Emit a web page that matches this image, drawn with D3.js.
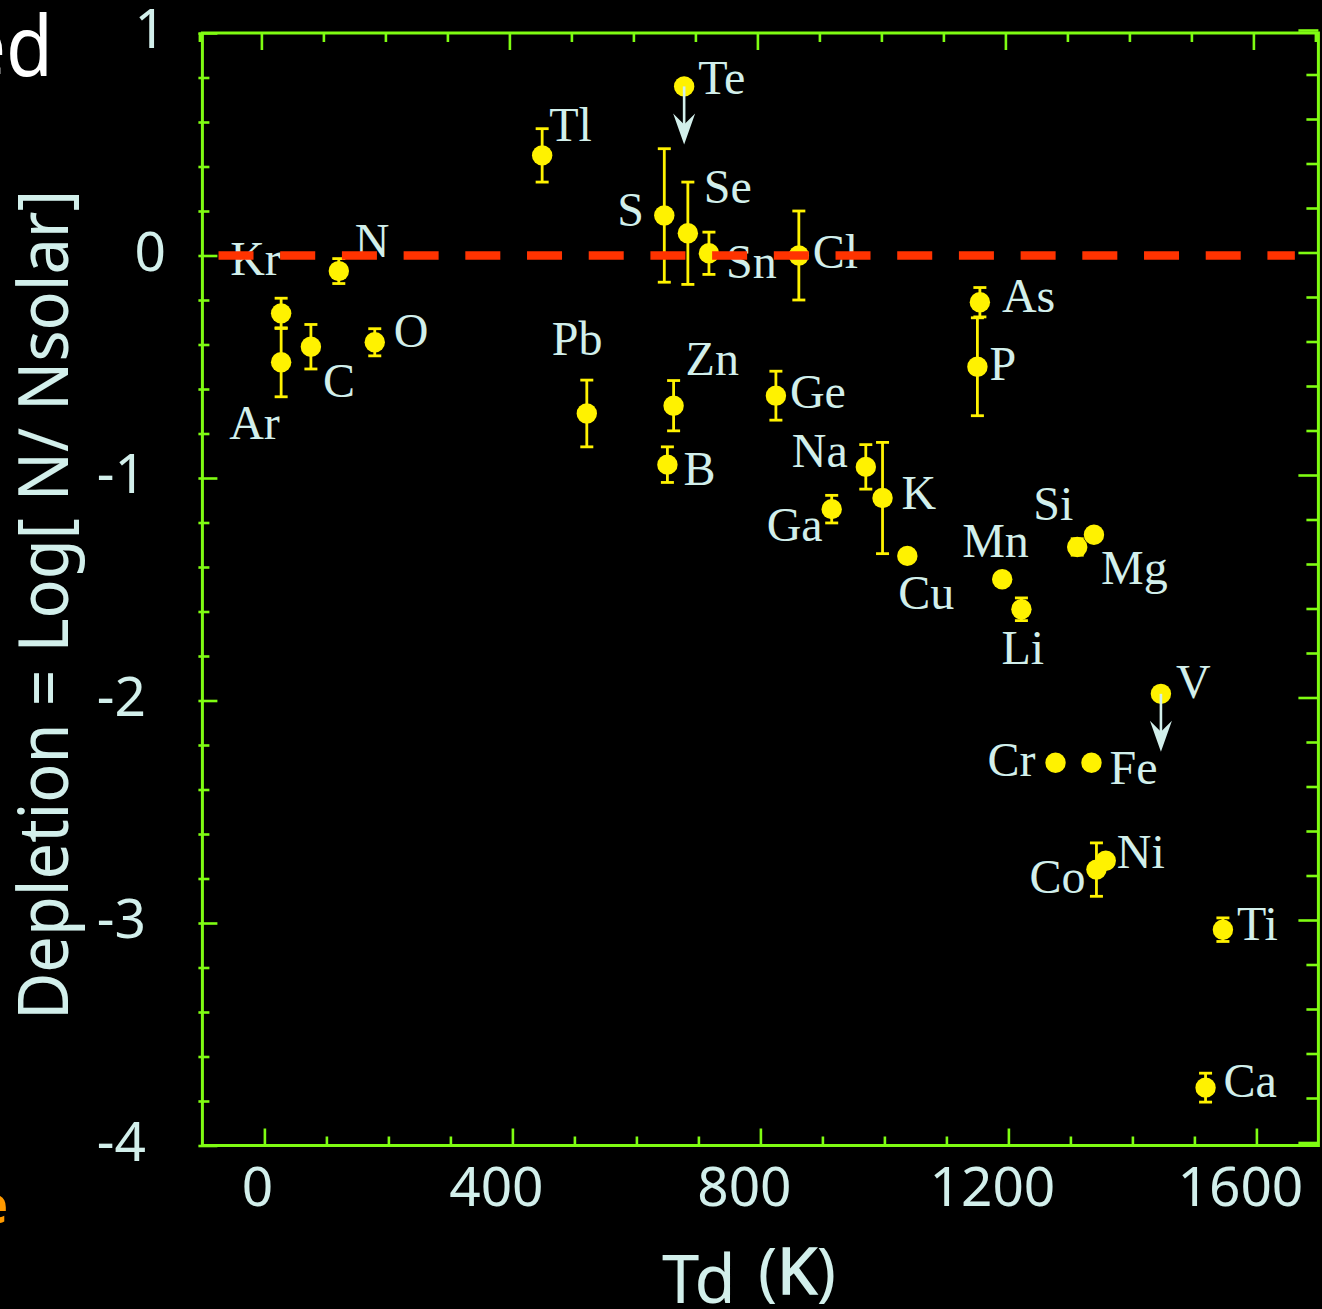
<!DOCTYPE html>
<html>
<head>
<meta charset="utf-8">
<script src="https://cdn.jsdelivr.net/npm/d3@7"></script>
<style>
  html, body { margin: 0; padding: 0; background: #000; }
  svg { display: block; }
</style>
</head>
<body>
<svg id="chart" width="1322" height="1309"></svg>
<script>
// Elements, their condensation temperature Td (K) and gas-phase depletion log[N/Nsolar]
const elements = ["Kr","Ar","C","N","O","Tl","Te","S","Se","Sn","Cl","Pb","Zn","B","Ge","Na","K","Ga","Cu","Mn","Li","Si","Mg","As","P","V","Cr","Fe","Co","Ni","Ti","Ca"];
const condTemp = [27, 27, 75, 120, 178, 448, 677, 645, 683, 717, 862, 520, 660, 650, 825, 970, 997, 915, 1037, 1190, 1221, 1311, 1338, 1154, 1150, 1446, 1276, 1334, 1342, 1357, 1546, 1518];
const depletion = [-0.26, -0.48, -0.41, -0.07, -0.39, 0.45, 0.76, 0.18, 0.10, 0.01, 0.00, -0.71, -0.675, -0.94, -0.63, -0.95, -1.09, -1.14, -1.35, -1.455, -1.59, -1.31, -1.255, -0.21, -0.50, -1.97, -2.28, -2.28, -2.76, -2.72, -3.03, -3.74];
const depletionErr = [0.068, 0.155, 0.10, 0.056, 0.061, 0.12, 0, 0.30, 0.23, 0.095, 0.20, 0.15, 0.113, 0.08, 0.11, 0.10, 0.25, 0.062, 0, 0, 0.051, 0.037, 0, 0.066, 0.22, 0, 0, 0, 0.12, 0, 0.053, 0.065];
const upperLimit = ["Te", "V"];

// Axis ticks
const xTickLabels = ["0", "400", "800", "1200", "1600"];
const yTickLabels = ["1", "0", "-1", "-2", "-3", "-4"];
const solarLevel = 0;
const solarLineSpan = [-74, 1662];

// Label placement next to each marker (pixel offsets: dx, dy to baseline)
const labelOffsets = [[-51,-38],[-52,77],[12,50],[16,-14],[19,5],[7,-14],[14,8],[-47,11],[16,-30],[17,25],[14,12],
  [-35,-58],[12,-31],[16,20],[14,12],[-74,0],[19,11],[-65,32],[-9,53],[-40,-22],[-20,55],[-44,-27],[7,49],
  [22,10],[12,13],[15,4],[-68,13],[18,21],[-67,23],[11,7],[14,10],[18,9]];

const GREEN = "#7ffc12", YELLOW = "#fff200", TXT = "#d2efeb", RED = "#ff3300";
const AXIS_FONT = "'Noto Sans', 'Open Sans', 'DejaVu Sans', sans-serif";

const svg = d3.select("#chart");
svg.append("rect").attr("width", 1322).attr("height", 1309).attr("fill", "#000");

const x = d3.scaleLinear().domain([-100, 1700]).range([202.4, 1318.4]);
const y = d3.scaleLinear().domain([-4, 1]).range([1145.5, 33]);

const points = elements.map((el, i) => ({
  el, t: condTemp[i], v: depletion[i], e: depletionErr[i],
  lim: upperLimit.includes(el), off: labelOffsets[i]
}));

// Frame
svg.append("rect")
  .attr("x", x(-100)).attr("y", y(1))
  .attr("width", x(1700) - x(-100)).attr("height", y(-4) - y(1))
  .attr("fill", "none").attr("stroke", GREEN).attr("stroke-width", 3);

// Tick marks on all four sides, pointing inward
const xTicks = d3.range(0, 1601, 100);
const xTicksTop = d3.range(-100, 1701, 100);
const yTicks = d3.range(-20, 6).map(d => +(d * 0.2).toFixed(1));
const isMajorX = d => d % 400 === 0;
const isMajorY = d => Math.abs(d - Math.round(d)) < 1e-6;

function styleTicks(g) {
  g.select(".domain").remove();
  g.selectAll("text").remove();
  g.selectAll("line").attr("stroke", GREEN).attr("stroke-width", 2.6);
}

svg.append("g").attr("transform", `translate(0,${y(-4)})`)
  .call(d3.axisBottom(x).tickValues(xTicks).tickSize(-9).tickFormat(""))
  .call(styleTicks)
  .selectAll(".tick line").attr("y2", d => isMajorX(d) ? -17 : -9);

svg.append("g").attr("transform", `translate(-3,${y(1)})`)
  .call(d3.axisTop(x).tickValues(xTicksTop).tickSize(-9).tickFormat(""))
  .call(styleTicks)
  .selectAll(".tick line").attr("y2", d => isMajorX(d) ? 17 : 9);

svg.append("g").attr("transform", `translate(${x(-100)},0)`)
  .call(d3.axisLeft(y).tickValues(yTicks).tickSize(-7).tickFormat(""))
  .call(styleTicks)
  .selectAll(".tick line").attr("x1", -4).attr("x2", d => isMajorY(d) ? 15 : 7);

svg.append("g").attr("transform", `translate(${x(1700)},-3)`)
  .call(d3.axisRight(y).tickValues(yTicks).tickSize(-12).tickFormat(""))
  .call(styleTicks)
  .selectAll(".tick line").attr("x2", d => isMajorY(d) ? -20 : -12);

// Tick labels
svg.append("g").selectAll("text").data(xTickLabels).join("text")
  .attr("x", d => x(+d) - (d.length > 1 ? 16 : 7))
  .attr("y", 1206)
  .attr("text-anchor", "middle")
  .attr("font-family", AXIS_FONT).attr("font-size", 55)
  .attr("fill", TXT).text(d => d);

svg.append("g").selectAll("text").data(yTickLabels).join("text")
  .attr("x", d => +d >= 0 ? 166 : 146)
  .attr("y", d => y(+d) + 15)
  .attr("text-anchor", "end")
  .attr("font-family", AXIS_FONT).attr("font-size", 55)
  .attr("fill", TXT).text(d => d);

// Axis titles
svg.append("text")
  .attr("transform", "translate(68,605) rotate(-90)")
  .attr("text-anchor", "middle")
  .attr("font-family", AXIS_FONT).attr("font-size", 70)
  .attr("textLength", 830).attr("lengthAdjust", "spacingAndGlyphs")
  .attr("fill", TXT).text("Depletion = Log[ N/ Nsolar]");

const xTitle = svg.append("text")
  .attr("font-family", AXIS_FONT).attr("fill", TXT);
xTitle.append("tspan").attr("x", 662).attr("y", 1303).attr("font-size", 67).text("Td");
xTitle.append("tspan").attr("x", 758).attr("y", 1294).attr("font-size", 64).text("(");
xTitle.append("tspan").attr("font-size", 64)
  .attr("stroke", TXT).attr("stroke-width", 1.6).text("K");
xTitle.append("tspan").attr("font-size", 64).text(")");

// Fragments of surrounding slide text
svg.append("text").attr("x", 53).attr("y", 76).attr("text-anchor", "end")
  .attr("font-family", AXIS_FONT).attr("font-size", 84)
  .attr("textLength", 90).attr("lengthAdjust", "spacingAndGlyphs")
  .attr("fill", "#ffffff").text("ed");
svg.append("text").attr("x", 8).attr("y", 1223).attr("text-anchor", "end")
  .attr("font-family", AXIS_FONT).attr("font-size", 50).attr("font-weight", 700)
  .attr("fill", "#ff9a00").text("e");

// Error bars
const bars = svg.append("g").attr("stroke", YELLOW).attr("stroke-width", 2.8).attr("fill", "none");
points.filter(p => p.e > 0).forEach(p => {
  const cx = x(p.t), y0 = y(p.v + p.e), y1 = y(p.v - p.e);
  bars.append("line").attr("x1", cx).attr("x2", cx).attr("y1", y0).attr("y2", y1);
  bars.append("line").attr("x1", cx - 6.5).attr("x2", cx + 6.5).attr("y1", y0).attr("y2", y0);
  bars.append("line").attr("x1", cx - 6.5).attr("x2", cx + 6.5).attr("y1", y1).attr("y2", y1);
});

// Markers
svg.append("g").selectAll("circle").data(points).join("circle")
  .attr("cx", d => x(d.t)).attr("cy", d => y(d.v)).attr("r", 10.2)
  .attr("fill", YELLOW);

// Element labels
svg.append("g").selectAll("text").data(points).join("text")
  .attr("x", d => x(d.t) + d.off[0]).attr("y", d => y(d.v) + d.off[1])
  .attr("font-family", "'Liberation Serif', 'Times New Roman', serif")
  .attr("font-size", 48).attr("fill", TXT).text(d => d.el);

// Solar reference level
svg.append("line")
  .attr("x1", x(solarLineSpan[0])).attr("x2", x(solarLineSpan[1]))
  .attr("y1", y(solarLevel)).attr("y2", y(solarLevel))
  .attr("stroke", RED).attr("stroke-width", 8.5)
  .attr("stroke-dasharray", "35,26.7");

// Upper-limit arrows
const arrows = svg.append("g");
points.filter(p => p.lim).forEach(p => {
  const cx = x(p.t), cy = y(p.v), L = 58;
  arrows.append("line").attr("x1", cx).attr("x2", cx).attr("y1", cy).attr("y2", cy + L - 10)
    .attr("stroke", TXT).attr("stroke-width", 2.6);
  arrows.append("path")
    .attr("d", `M${cx},${cy + L} L${cx - 11},${cy + L - 31} L${cx},${cy + L - 20} L${cx + 11},${cy + L - 31} Z`)
    .attr("fill", TXT);
});
</script>
</body>
</html>
